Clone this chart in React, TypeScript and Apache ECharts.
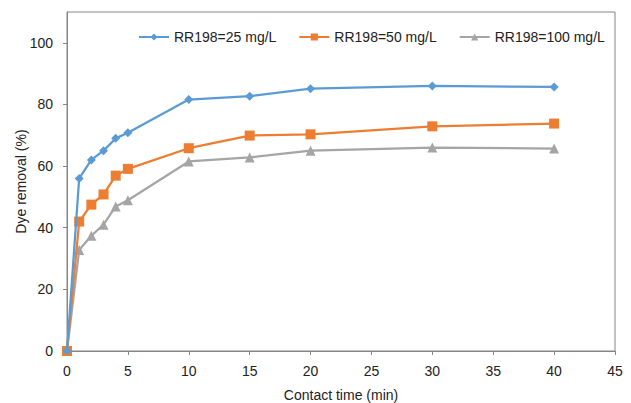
import React, { useEffect, useRef } from "react";
import * as echarts from "echarts";

const times = [0, 1, 2, 3, 4, 5, 10, 15, 20, 30, 40];
const series25 = [0, 56, 62, 65, 69, 70.8, 81.6, 82.7, 85.1, 86, 85.7];
const series50 = [0, 42, 47.5, 50.8, 56.9, 59.1, 65.8, 69.9, 70.3, 72.9, 73.8];
const series100 = [0, 32.8, 37.4, 41, 46.9, 48.9, 61.5, 62.8, 65, 66, 65.7];
const seriesNames = ["RR198=25 mg/L", "RR198=50 mg/L", "RR198=100 mg/L"];
const colors = ["#5B9BD5", "#ED7D31", "#A5A5A5"];
const symbols = ["diamond", "rect", "triangle"];
const symbolSizes = [9, 10, 10];

const FONT = "Liberation Sans, Arial, sans-serif";

export default function App() {
  const ref = useRef<HTMLDivElement>(null);
  useEffect(() => {
    if (!ref.current) return;
    const chart = echarts.init(ref.current, null, { renderer: "svg" });
    const all = [series25, series50, series100];
    chart.setOption({
      animation: false,
      backgroundColor: "#ffffff",
      textStyle: { fontFamily: FONT },
      grid: {
        left: 67,
        right: 16,
        top: 12,
        bottom: 52,
        show: true,
        borderColor: "#868686",
        borderWidth: 1,
        outerBoundsMode: "none",
        containLabel: false,
      },
      legend: {
        left: 133,
        top: 25,
        itemWidth: 30,
        itemHeight: 9,
        itemGap: 22,
        textStyle: { fontSize: 14, color: "#222", fontFamily: FONT },
        data: seriesNames,
      },
      xAxis: {
        type: "value",
        min: 0,
        max: 45,
        interval: 5,
        name: "Contact time (min)",
        nameLocation: "middle",
        nameGap: 37,
        nameMoveOverlap: false,
        nameTextStyle: { fontSize: 14, color: "#222", fontFamily: FONT },
        axisLine: { show: true, lineStyle: { color: "#868686", width: 1 } },
        axisTick: { show: true, length: 4, lineStyle: { color: "#868686" } },
        axisLabel: { fontSize: 14, color: "#222", margin: 13, fontFamily: FONT },
        splitLine: { show: false },
      },
      yAxis: {
        type: "value",
        min: 0,
        max: 110,
        interval: 20,
        name: "Dye removal (%)",
        nameLocation: "middle",
        nameGap: 39,
        nameMoveOverlap: false,
        nameTextStyle: { fontSize: 14, color: "#222", fontFamily: FONT },
        axisLine: { show: true, lineStyle: { color: "#868686", width: 1 } },
        axisTick: { show: true, length: 4, lineStyle: { color: "#868686" } },
        axisLabel: { fontSize: 14, color: "#222", margin: 14, showMaxLabel: false, fontFamily: FONT },
        splitLine: { show: false },
      },
      series: all.map((vals, i) => ({
        name: seriesNames[i],
        type: "line",
        data: times.map((t, j) => [t, vals[j]]),
        symbol: symbols[i],
        symbolSize: symbolSizes[i],
        showAllSymbol: true,
        itemStyle: { color: colors[i] },
        lineStyle: { color: colors[i], width: 2.25 },
        z: 10 - i,
      })),
    });
    return () => chart.dispose();
  }, []);
  return (
    <div
      ref={ref}
      style={{ position: "fixed", left: 0, top: 0, width: 631, height: 403 }}
    />
  );
}
